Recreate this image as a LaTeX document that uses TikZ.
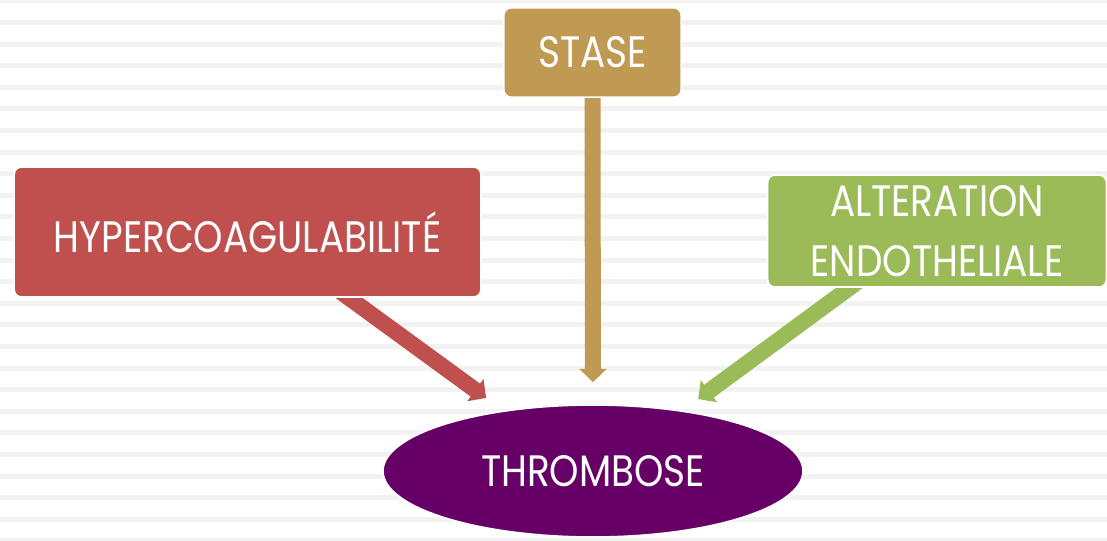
\documentclass[tikz,border=0pt]{standalone}
\usepackage{fontspec}
\usetikzlibrary{arrows.meta,shapes.geometric}

\newfontfamily\boxfont[FakeStretch=0.85]{Poppins}

\definecolor{stripegray}{HTML}{F2F2F2}
\definecolor{hypercol}{HTML}{C0504D}
\definecolor{stasecol}{HTML}{C09A52}
\definecolor{altercol}{HTML}{9BBB59}
\definecolor{thrombcol}{HTML}{660066}

\pgfdeclarelayer{stripes}
\pgfdeclarelayer{links}
\pgfsetlayers{stripes,links,main}

\tikzset{
  causebox/.style={rectangle, rounded corners=5.5pt, draw=white, line width=1.2pt,
    text=white, align=center, inner sep=0pt,
    font=\boxfont\fontsize{33}{45}\selectfont},
  bigarrow/.style={line width=12pt, -{Triangle[width=20pt,length=10pt]},
    shorten <=-8pt}
}

\begin{document}
\begin{tikzpicture}[x=0.75pt,y=-0.75pt]

  \useasboundingbox (0,0) rectangle (1107,541);

  % striped background
  \begin{pgfonlayer}{stripes}
    \fill[white] (0,0) rectangle (1107,541);
    \foreach \k in {-1,...,24} {
      \fill[stripegray] (0,{20+21.6*\k}) rectangle (1107,{25+21.6*\k});
    }
  \end{pgfonlayer}

  % the three causes
  \node[causebox, fill=hypercol, minimum width=350pt, minimum height=97.5pt]
    (hyper) at (247.5,232) {HYPERCOAGULABILITÉ};
  \node[causebox, fill=stasecol, minimum width=133pt, minimum height=67pt]
    (stase) at (592.5,52.5) {STASE};
  \node[causebox, fill=altercol, minimum width=254pt, minimum height=84pt]
    (alter) at (937,231) {ALTERATION\\ENDOTHELIALE};

  % the result
  \node[ellipse, draw=white, line width=1.2pt, fill=thrombcol, text=white,
    minimum width=315pt, minimum height=99pt, inner sep=0pt,
    font=\boxfont\fontsize{33}{36}\selectfont]
    (thromb) at (593,471) {THROMBOSE};

  % arrows into the ellipse
  \begin{pgfonlayer}{links}
    \draw[bigarrow, hypercol, shorten >=16pt] (hyper.-33) -- (thromb.146);
    \draw[bigarrow, stasecol, shorten >=16.5pt] (stase.south) -- (thromb.north);
    \draw[bigarrow, altercol, shorten >=14.5pt] (alter.213) -- (thromb.34);
  \end{pgfonlayer}

\end{tikzpicture}
\end{document}
